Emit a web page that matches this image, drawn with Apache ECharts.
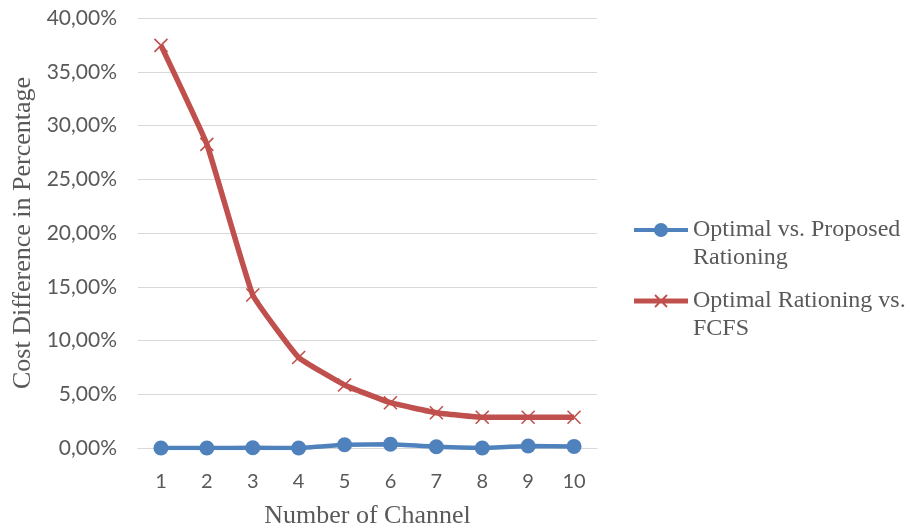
<!DOCTYPE html>
<html><head><meta charset="utf-8">
<script src="https://cdn.jsdelivr.net/npm/echarts@6/dist/echarts.min.js"></script>
<style>html,body{margin:0;padding:0;background:#fff}#c{width:911px;height:531px}</style>
</head><body><div id="c"></div>
<script>
const categories = ['1','2','3','4','5','6','7','8','9','10'];
const seriesNames = ['Optimal vs. Proposed\nRationing', 'Optimal Rationing vs.\nFCFS'];
const proposedValues = [0.0, 0.0, 0.02, 0.0, 0.3, 0.35, 0.12, 0.0, 0.18, 0.15];
const fcfsValues = [37.45, 28.25, 14.23, 8.42, 5.86, 4.21, 3.28, 2.86, 2.86, 2.86];
const yTicks = [0, 5, 10, 15, 20, 25, 30, 35, 40];

const BLUE = '#4F81BD', RED = '#C0504D';
// legend icons (54x56 box): line + marker placed at the first text line of a 2-line item
const blueIcon = 'path://M0,0 L0.01,0 Z M0,12 L54,12 L54,16 L0,16 Z M34,14 A7,7 0 1,1 20,14 A7,7 0 1,1 34,14 Z M0,56 L0.01,56 Z';
const redIcon = 'path://M0,0 L0.01,0 Z M0,11.5 L54,11.5 L54,16.5 L0,16.5 Z ' +
  'M21.64,7.36 L33.64,19.36 L32.36,20.64 L20.36,8.64 Z ' +
  'M33.64,8.64 L21.64,20.64 L20.36,19.36 L32.36,7.36 Z M0,56 L0.01,56 Z';

const chart = echarts.init(document.getElementById('c'));
chart.setOption({
  animation: false,
  grid: {left: 138, right: 314, top: 18, bottom: 83, containLabel: false, outerBoundsMode: 'none'},
  xAxis: {
    type: 'category', data: categories, boundaryGap: true,
    name: 'Number of Channel', nameLocation: 'middle', nameGap: 55,
    nameTextStyle: {fontFamily: 'Liberation Serif', fontSize: 26, color: '#595959'},
    axisLine: {lineStyle: {color: '#D9D9D9', width: 1}},
    axisTick: {show: false},
    axisLabel: {fontFamily: 'Lato', fontSize: 20, color: '#595959', margin: 24}
  },
  yAxis: {
    type: 'value', min: 0, max: 40, interval: 5,
    name: 'Cost Difference in Percentage', nameLocation: 'middle', nameGap: 100,
    nameTextStyle: {fontFamily: 'Liberation Serif', fontSize: 26, color: '#595959'},
    axisLine: {show: false}, axisTick: {show: false},
    splitLine: {lineStyle: {color: '#D9D9D9', width: 1}},
    axisLabel: {fontFamily: 'Lato', fontSize: 21, color: '#595959', margin: 21,
      formatter: v => yTicks.includes(v) ? v.toFixed(2).replace('.', ',') + '%' : ''}
  },
  legend: {
    orient: 'vertical', left: 634, top: 216, itemGap: 15, padding: 0,
    itemWidth: 54, itemHeight: 56,
    textStyle: {fontFamily: 'Liberation Serif', fontSize: 24, color: '#595959', lineHeight: 28},
    data: [
      {name: seriesNames[0], icon: blueIcon, itemStyle: {color: BLUE, borderWidth: 0}},
      {name: seriesNames[1], icon: redIcon, itemStyle: {color: RED, borderWidth: 0}}
    ]
  },
  series: [
    {name: seriesNames[0], type: 'line', data: proposedValues, smooth: 0.1,
     symbol: 'circle', symbolSize: 15,
     lineStyle: {color: BLUE, width: 4.5}, itemStyle: {color: BLUE}},
    {name: seriesNames[1], type: 'line', data: fcfsValues, smooth: 0.1,
     symbol: 'path://M0,0 L10,10 M10,0 L0,10', symbolSize: 13,
     lineStyle: {color: RED, width: 5.5},
     itemStyle: {color: 'none', borderColor: RED, borderWidth: 1.6}}
  ]
});
</script></body></html>
